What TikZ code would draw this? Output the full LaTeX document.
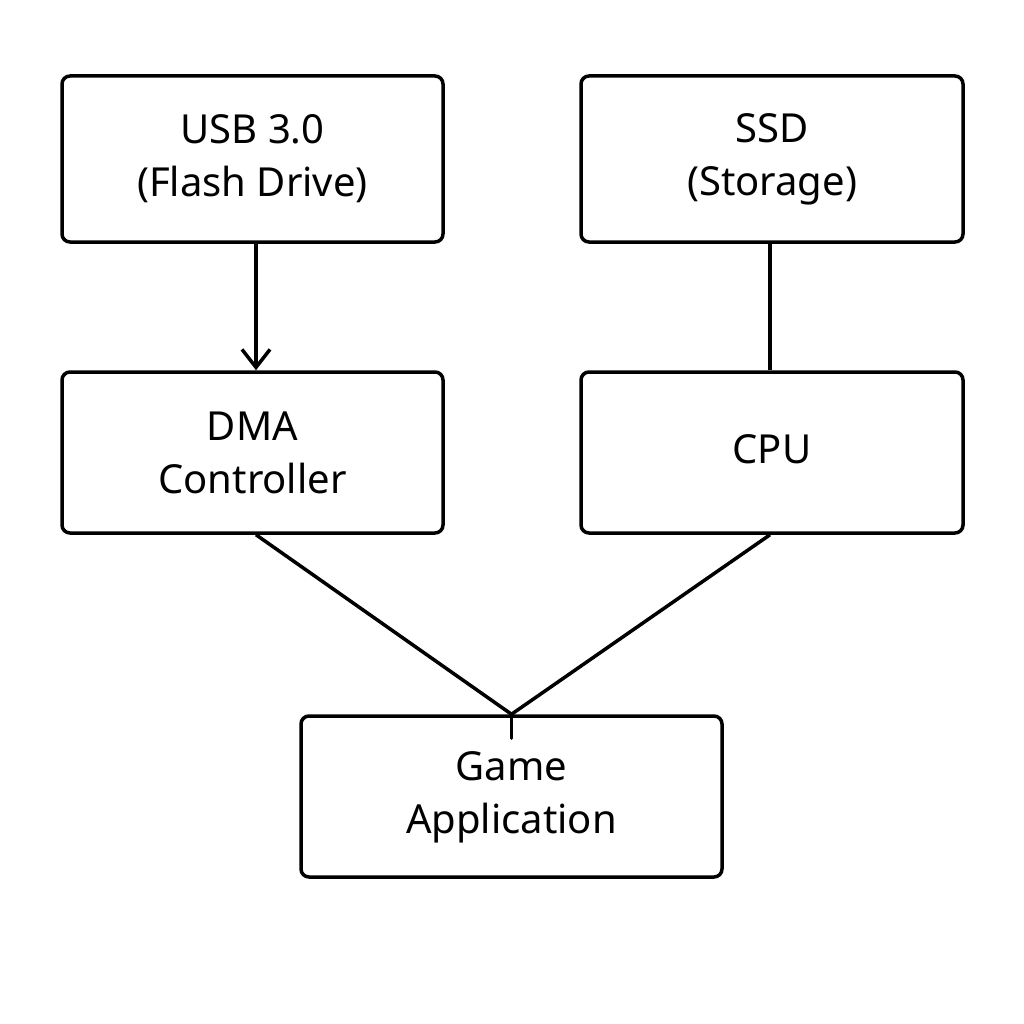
\documentclass[tikz,border=0pt]{standalone}
\usepackage{fontspec}
\setmainfont{Noto Sans}
\usetikzlibrary{arrows.meta}
\begin{document}
\begin{tikzpicture}[x=1pt,y=-1pt,
  box/.style={draw=black, line width=3.5pt, rounded corners=8pt, inner sep=0pt, align=center,
    font=\fontsize{40}{53}\selectfont},
  conn/.style={draw=black, line width=3.5pt},
  barb/.style={-{Straight Barb[length=18pt,width=28pt,line width=3.5pt]}}]
\useasboundingbox (0,0) rectangle (1024,1024);
\fill[white] (0,0) rectangle (1024,1024);
\node[box, minimum width=381pt, minimum height=166pt] (usb) at (252.5,159) {USB 3.0\\(Flash Drive)};
\node[box, minimum width=382pt, minimum height=166pt] (ssd) at (772,159) {SSD\\(Storage)};
\node[box, minimum width=381pt, minimum height=161pt] (dma) at (252.5,452.5) {DMA\\Controller};
\node[box, minimum width=382pt, minimum height=161pt] (cpu) at (772,452.5) {\raisebox{6pt}{CPU}};
\node[box, minimum width=421pt, minimum height=161pt] (game) at (511.5,796.5) {\raisebox{-6pt}{\begin{tabular}{@{}c@{}}Game\\Application\end{tabular}}};
\draw[conn, barb] ([xshift=3.5pt]usb.south) -- ([xshift=3.5pt]dma.north);
\draw[conn] ([xshift=-2pt]ssd.south) -- ([xshift=-2pt]cpu.north);
\coordinate (meet) at (game.north);
\coordinate (stub) at ([yshift=-24pt]game.north);
\draw[conn] ([xshift=3.5pt]dma.south) -- (meet);
\draw[conn] ([xshift=-2pt]cpu.south) -- (meet);
\draw[conn, line cap=round] (stub) -- (meet);
\end{tikzpicture}
\end{document}
